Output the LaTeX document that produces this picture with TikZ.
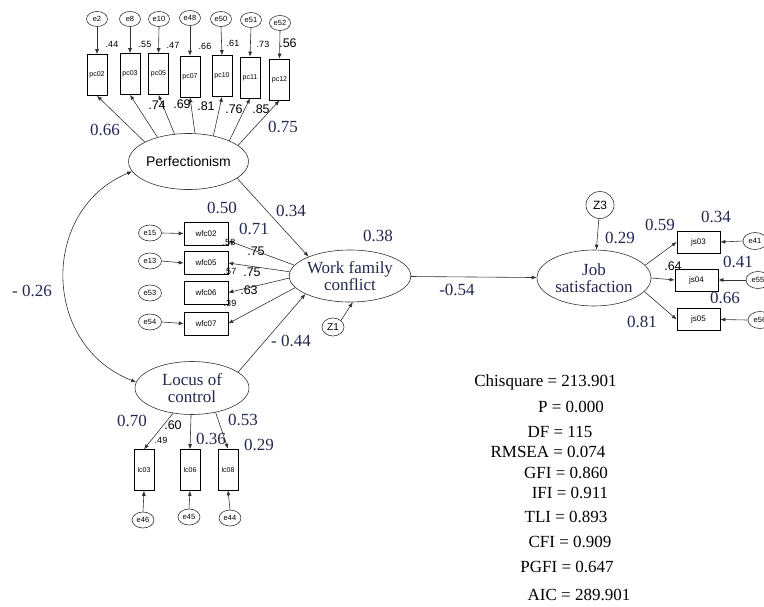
\documentclass[tikz,border=0pt]{standalone}
\usepackage{fontspec}
\setmainfont{Liberation Serif}
\setsansfont{Liberation Sans}
\usetikzlibrary{shapes.geometric,arrows.meta}
\definecolor{labc}{RGB}{35,40,80}
\definecolor{lnc}{RGB}{50,50,50}
\tikzset{
 arr/.style={draw=lnc, line width=0.6pt, -{Latex[length=5pt,width=4pt]}},
 dbl/.style={draw=lnc, line width=0.6pt, {Latex[length=5pt,width=4pt]}-{Latex[length=5pt,width=4pt]}},
 err/.style={ellipse, draw=lnc, line width=0.6pt, inner sep=0pt, minimum width=22pt, minimum height=16pt, font=\sffamily\fontsize{7.5}{7.5}\selectfont},
 obsv/.style={rectangle, draw=black, line width=0.6pt, minimum width=20pt, minimum height=41pt, inner sep=0pt, font=\sffamily\fontsize{7}{7}\selectfont},
 obsh/.style={rectangle, draw=black, line width=0.6pt, minimum width=44pt, minimum height=23pt, inner sep=0pt, font=\sffamily\fontsize{8}{8}\selectfont},
 lat/.style={ellipse, draw=lnc, line width=0.6pt, inner sep=0pt, align=center, text=labc, font=\fontsize{17}{17}\selectfont},
 big/.style={font=\fontsize{17}{17}\selectfont, text=labc, inner sep=0pt},
 sm/.style={font=\sffamily\fontsize{9}{9}\selectfont, inner sep=0pt},
 md/.style={font=\sffamily\fontsize{12.5}{12.5}\selectfont, inner sep=0pt},
 stat/.style={font=\fontsize{17}{17}\selectfont, inner sep=0pt},
}
\begin{document}
\begin{tikzpicture}[x=1pt,y=-1pt]
\path[use as bounding box] (0,0) rectangle (764,606);

% ---------- Perfectionism block ----------
\node[err, minimum width=21pt, minimum height=15pt] (e2)  at (97,19)  {e2};
\node[err, minimum width=21pt, minimum height=15pt] (e8)  at (130,19) {e8};
\node[err, minimum width=21pt, minimum height=15pt] (e10) at (159,19) {e10};
\node[err, minimum width=21pt, minimum height=15pt] (e48) at (190,18) {e48};
\node[err, minimum width=21pt, minimum height=15pt] (e50) at (221,19) {e50};
\node[err, minimum width=21pt, minimum height=15pt] (e51) at (251,20) {e51};
\node[err, minimum width=21pt, minimum height=15pt] (e52) at (280,23) {e52};

\node[obsv] (pc02) at (97,75)    {pc02};
\node[obsv] (pc03) at (130,74)   {pc03};
\node[obsv] (pc05) at (158.5,74) {pc05};
\node[obsv] (pc07) at (190,76.5) {pc07};
\node[obsv] (pc10) at (222,76)   {pc10};
\node[obsv] (pc11) at (250,77.5) {pc11};
\node[obsv] (pc12) at (279.5,79.5) {pc12};

\foreach \e/\p in {e2/pc02,e8/pc03,e10/pc05,e48/pc07,e50/pc10,e51/pc11,e52/pc12}
  \draw[arr] (\e.south) -- (\p.north);

\node[ellipse, draw=lnc, line width=0.6pt, inner sep=0pt, minimum width=113pt, minimum height=56pt,
      font=\sffamily\fontsize{14}{14}\selectfont] (perf) at (188.5,161.5) {Perfectionism};

\draw[arr] (perf.156.5) -- (pc02.south);
\draw[arr] (perf.142) -- (pc03.south);
\draw[arr] (perf.117) -- (pc05.south);
\draw[arr] (perf.77) -- (pc07.south);
\draw[arr] (perf.46) -- (pc10.south);
\draw[arr] (perf.27) -- (pc11.south);
\draw[arr] (perf.18) -- (pc12.south);

\node[sm] (l44) at (112,44) {.44};
\node[sm] (l55) at (145,44) {.55};
\node[sm] (l47) at (173,45) {.47};
\node[sm] (l66) at (205,46) {.66};
\node[sm] (l61) at (233,43) {.61};
\node[sm] (l73) at (263,44) {.73};
\node[md] (l56) at (288,43) {.56};

\node[md] (l74) at (157,105) {.74};
\node[md] (l69) at (182,104) {.69};
\node[md] (l81) at (206,106) {.81};
\node[md] (l76) at (234,109) {.76};
\node[md] (l85) at (261,109) {.85};
\node[big] (g66) at (105,130) {0.66};
\node[big] (g75) at (283,127) {0.75};

% ---------- Work family conflict block ----------
\node[lat, minimum width=113pt, minimum height=52pt] (wfc) at (350,276) {Work family\\conflict};
\node[big] (g38) at (378,236) {0.38};

\node[obsh] (w02) at (206,233.5) {wfc02};
\node[obsh] (w05) at (206,263)   {wfc05};
\node[obsh] (w06) at (206,292.5) {wfc06};
\node[obsh] (w07) at (206,323.5) {wfc07};

\node[err, minimum width=23pt, minimum height=16pt] (e15) at (150,233) {e15};
\node[err, minimum width=23pt, minimum height=16pt] (e13) at (150,261) {e13};
\node[err, minimum width=23pt, minimum height=16pt] (e53) at (150,293) {e53};
\node[err, minimum width=23pt, minimum height=16pt] (e54) at (150,322) {e54};

\draw[arr] (e15.east) -- (w02.west);
\draw[arr] (e13.east) -- (w05.west);
\draw[arr] (e54.east) -- (w07.west);

\draw[arr] (wfc.169) -- (w02.-18);
\draw[arr] (wfc.176) -- (w05.east);
\draw[arr] (wfc.182) -- (w06.east);
\draw[arr] (wfc.192) -- (w07.east);

\node[big] (g50) at (222,208) {0.50};
\node[big] (g71) at (254,229) {0.71};
\node[sm]  (s58) at (229,242) {.58};
\node[md]  (s75a) at (256,251) {.75};
\node[sm]  (s57) at (230,271) {.57};
\node[md]  (s75b) at (252,272) {.75};
\node[md]  (s63) at (249,290) {.63};
\node[sm]  (s39) at (230,303) {.39};

\node[err, minimum width=22pt, minimum height=18pt, font=\sffamily\fontsize{10}{10}\selectfont] (z1) at (333,327) {Z1};
\draw[arr] (z1.north east) -- (wfc.276);

% ---------- Locus of control block ----------
\node[lat, minimum width=114pt, minimum height=53pt] (loc) at (192,388) {Locus of\\control};

\node[obsv] (lc03) at (144,470) {lc03};
\node[obsv] (lc06) at (190,470) {lc06};
\node[obsv] (lc08) at (228,469.5) {lc08};

\node[err] (e46) at (143,520) {e46};
\node[err] (e45) at (189,517) {e45};
\node[err] (e44) at (230,518) {e44};

\draw[arr] (e46.north) -- (lc03.south);
\draw[arr] (e45.north) -- (lc06.south);
\draw[arr] (e44.north) -- (lc08.south);

\draw[arr] (loc.233) -- (lc03.north);
\draw[arr] (loc.268) -- (lc06.north);
\draw[arr] (loc.314) -- (lc08.north);

\node[big] (g70) at (132,421) {0.70};
\node[md]  (s60) at (173,425) {.60};
\node[sm]  (s49) at (161,440) {.49};
\node[big] (g36) at (211,439) {0.36};
\node[big] (g53) at (243,420) {0.53};
\node[big] (g29) at (259,445) {0.29};

% ---------- structural paths ----------
\draw[arr] (perf.-19.5) -- (wfc.155);
\node[big] (g34) at (291,211) {0.34};
\draw[arr] (loc.19) -- (wfc.202);
\node[big] (g44) at (291,341) {- 0.44};
\draw[dbl] (perf.190.5) .. controls +(-92,38) and +(-95,-37) .. (loc.174);
\node[big] (g26) at (32,291) {- 0.26};

% ---------- Job satisfaction block ----------
\node[lat, minimum width=114pt, minimum height=56pt] (js) at (594,278) {Job\\satisfaction};
\draw[arr] (wfc) -- (js);
\node[big] (g54) at (457,290) {-0.54};

\node[err, minimum width=28pt, minimum height=27pt, font=\sffamily\fontsize{12}{12}\selectfont] (z3) at (600,205) {Z3};
\draw[arr] (z3) -- (js);
\node[big] (g29b) at (620,238) {0.29};

\node[obsh, minimum width=43pt, minimum height=22pt] (js03) at (698.5,242) {js03};
\node[obsh, minimum width=43pt, minimum height=22pt] (js04) at (696.5,280) {js04};
\node[obsh, minimum width=43pt, minimum height=22pt] (js05) at (698.5,319.5) {js05};

\node[err, minimum width=24pt, minimum height=17pt] (e41) at (755,241) {e41};
\node[err, minimum width=24pt, minimum height=17pt] (e55) at (758,280) {e55};
\node[err, minimum width=24pt, minimum height=17pt] (e56) at (760,320) {e56};
\draw[arr] (e41.west) -- (js03.east);
\draw[arr] (e55.west) -- (js04.east);
\draw[arr] (e56.west) -- (js05.east);

\draw[arr] (js.14) -- (js03.west);
\draw[arr] (js.0) -- (js04.west);
\draw[arr] (js.-15) -- (js05.west);

\node[big] (g59) at (660,225) {0.59};
\node[big] (g34b) at (716,217) {0.34};
\node[md]  (s64) at (673,266) {.64};
\node[big] (g41) at (738,262) {0.41};
\node[big] (g66b) at (725,298) {0.66};
\node[big] (g81) at (642,322) {0.81};

% ---------- fit statistics ----------
\node[stat] (chi)  at (545.5,382) {Chisquare = 213.901};
\node[stat] (pv)   at (571,407) {P = 0.000};
\node[stat] (df)   at (560,432) {DF = 115};
\node[stat] (rm)   at (548,452) {RMSEA = 0.074};
\node[stat] (gfi)  at (566,473) {GFI = 0.860};
\node[stat] (ifi)  at (570,493) {IFI = 0.911};
\node[stat] (tli)  at (566,517) {TLI = 0.893};
\node[stat] (cfi)  at (570,542) {CFI = 0.909};
\node[stat] (pgfi) at (567,567) {PGFI = 0.647};
\node[stat] (aic)  at (579,595) {AIC = 289.901};
\end{tikzpicture}
\end{document}
